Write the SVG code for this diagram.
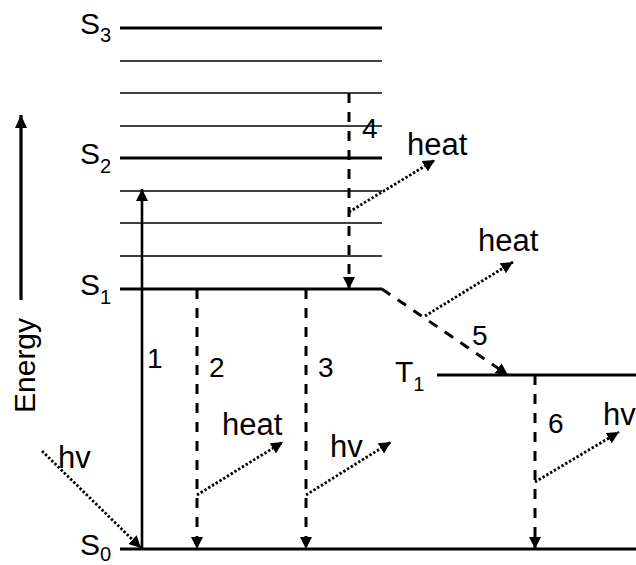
<svg xmlns="http://www.w3.org/2000/svg" width="636" height="565" viewBox="0 0 636 565">
<style>
text{font-family:"Liberation Sans",Arial,sans-serif;fill:#000}
.big{font-size:30px}
.sub{font-size:20px}
.num{font-size:28px}
.lbl{font-size:31px}
.lev{stroke:#000;stroke-width:3.2;fill:none}
.vib{stroke:#000;stroke-width:1.6;fill:none}
.solid{stroke:#000;stroke-width:2.6;fill:none}
.dash{stroke:#000;stroke-width:3;fill:none;stroke-dasharray:10 9}
.dot{stroke:#000;stroke-width:2.8;fill:none;stroke-dasharray:2.4 2}
</style>
<defs>
<marker id="ah" markerUnits="userSpaceOnUse" markerWidth="12" markerHeight="12" viewBox="0 0 12 12" refX="12" refY="6" orient="auto">
<path d="M0,0 L12,6 L0,12 z" fill="#000"/>
</marker>
<marker id="ahb" markerUnits="userSpaceOnUse" markerWidth="13" markerHeight="12" viewBox="0 0 13 12" refX="13" refY="6" orient="auto">
<path d="M0,0 L13,6 L0,12 z" fill="#000"/>
</marker>
</defs>

<g id="energy-axis">
<line x1="21" y1="300" x2="21" y2="115" stroke="#000" stroke-width="3.2" marker-end="url(#ahb)"/>
<text class="big" transform="translate(35,413) rotate(-90)">Energy</text>
</g>

<g id="S3">
<line class="lev" x1="120" y1="28" x2="382" y2="28"/>
<text class="big" x="80" y="33.5">S<tspan class="sub" dy="8.5">3</tspan></text>
</g>
<g id="S3-vib">
<line class="vib" x1="120" y1="61" x2="382" y2="61"/>
<line class="vib" x1="120" y1="93" x2="382" y2="93"/>
<line class="vib" x1="120" y1="126" x2="382" y2="126"/>
</g>
<g id="S2">
<line class="lev" x1="120" y1="158" x2="382" y2="158"/>
<text class="big" x="80" y="164">S<tspan class="sub" dy="8.5">2</tspan></text>
</g>
<g id="S2-vib">
<line class="vib" x1="120" y1="191" x2="382" y2="191"/>
<line class="vib" x1="120" y1="223" x2="382" y2="223"/>
<line class="vib" x1="120" y1="256" x2="382" y2="256"/>
</g>
<g id="S1">
<line class="lev" x1="120" y1="289" x2="382" y2="289"/>
<text class="big" x="80" y="295">S<tspan class="sub" dy="8.5">1</tspan></text>
</g>
<g id="T1">
<line class="lev" x1="437" y1="375" x2="636" y2="375"/>
<text class="big" x="395" y="382">T<tspan class="sub" dy="8.5">1</tspan></text>
</g>
<g id="S0">
<line class="lev" x1="120" y1="549" x2="636" y2="549"/>
<text class="big" x="80" y="555">S<tspan class="sub" dy="5.5">0</tspan></text>
</g>

<g id="connectors">
<line class="solid" x1="142" y1="549" x2="142" y2="189" marker-end="url(#ah)"/>
<line class="dash" x1="197" y1="289" x2="197" y2="549" marker-end="url(#ah)"/>
<line class="dash" x1="306" y1="289" x2="306" y2="549" marker-end="url(#ah)"/>
<line class="dash" x1="349" y1="93" x2="349" y2="289" marker-end="url(#ah)"/>
<line class="dash" x1="382" y1="289" x2="508" y2="375" marker-end="url(#ah)"/>
<line class="dash" x1="535" y1="375" x2="535" y2="549" marker-end="url(#ah)"/>
<line class="dot" x1="42" y1="451" x2="141" y2="548" marker-end="url(#ah)"/>
<line class="dot" x1="197" y1="495" x2="283" y2="442" marker-end="url(#ah)"/>
<line class="dot" x1="306" y1="495" x2="391" y2="442" marker-end="url(#ah)"/>
<line class="dot" x1="349" y1="212" x2="435" y2="160" marker-end="url(#ah)"/>
<line class="dot" x1="425" y1="316" x2="513" y2="262" marker-end="url(#ah)"/>
<line class="dot" x1="535" y1="482" x2="619" y2="432" marker-end="url(#ah)"/>
</g>

<g id="labels">
<text class="num" x="147" y="368">1</text>
<text class="num" x="209" y="377">2</text>
<text class="num" x="318" y="377">3</text>
<text class="num" x="362" y="138">4</text>
<text class="num" x="472" y="345">5</text>
<text class="num" x="548" y="433">6</text>
<text class="lbl" x="58" y="468">hv</text>
<text class="lbl" x="222" y="435">heat</text>
<text class="lbl" x="330" y="457">hv</text>
<text class="lbl" x="407" y="155">heat</text>
<text class="lbl" x="478" y="251">heat</text>
<text class="lbl" x="603" y="425">hv</text>
</g>
</svg>
